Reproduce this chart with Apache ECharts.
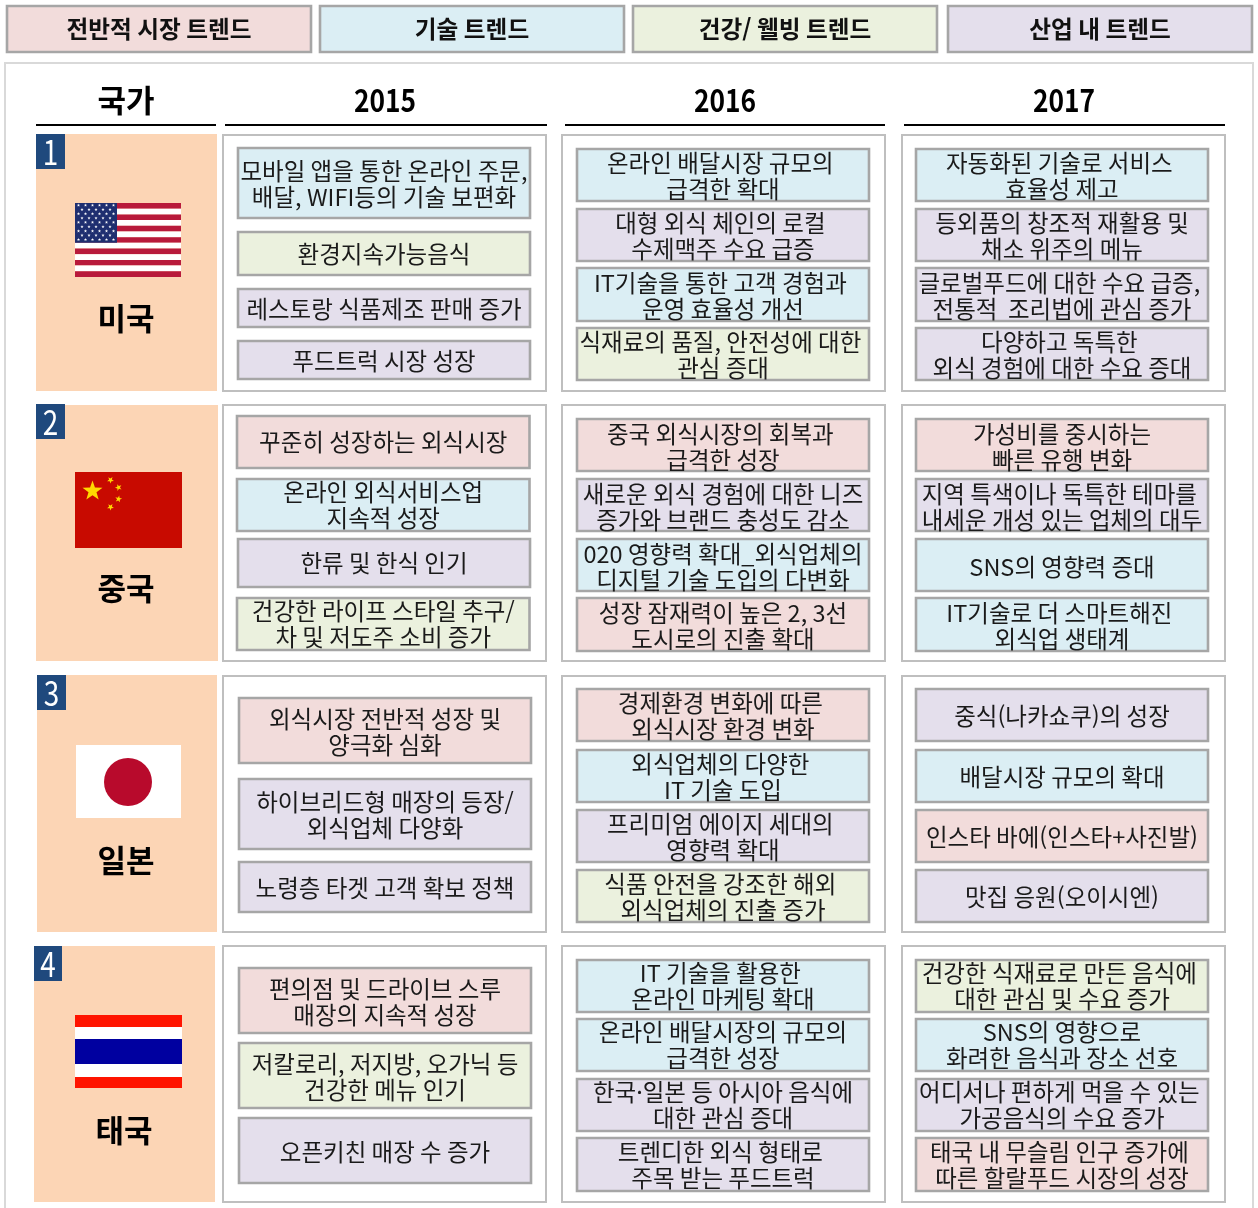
<!DOCTYPE html>
<html lang="ko"><head><meta charset="utf-8">
<style>html,body{margin:0;padding:0;background:#fff;overflow:hidden}#c{width:1258px;height:1208px}</style>
<script src="https://cdn.jsdelivr.net/npm/echarts@6/dist/echarts.min.js"></script>
</head><body><div id="c"></div>
<script>
// ---------- content ----------
const trendTypes = ['전반적 시장 트렌드','기술 트렌드','건강/ 웰빙 트렌드','산업 내 트렌드'];
const headers = ['국가','2015','2016','2017'];
const countries = ['미국','중국','일본','태국'];
const ranks = ['1','2','3','4'];

const usa2015 = ['모바일 앱을 통한 온라인 주문,\n배달, WIFI등의 기술 보편화','환경지속가능음식','레스토랑 식품제조 판매 증가','푸드트럭 시장 성장'];
const usa2016 = ['온라인 배달시장 규모의 \n급격한 확대','대형 외식 체인의 로컬 \n수제맥주 수요 급증','IT기술을 통한 고객 경험과 \n운영 효율성 개선','식재료의 품질, 안전성에 대한 \n관심 증대'];
const usa2017 = ['자동화된 기술로 서비스 \n효율성 제고','등외품의 창조적 재활용 및\n채소 위주의 메뉴','글로벌푸드에 대한 수요 급증, \n전통적  조리법에 관심 증가','다양하고 독특한 \n외식 경험에 대한 수요 증대'];
const chn2015 = ['꾸준히 성장하는 외식시장','온라인 외식서비스업\n지속적 성장','한류 및 한식 인기','건강한 라이프 스타일 추구/\n차 및 저도주 소비 증가'];
const chn2016 = ['중국 외식시장의 회복과 \n급격한 성장','새로운 외식 경험에 대한 니즈\n증가와 브랜드 충성도 감소','020 영향력 확대_외식업체의\n디지털 기술 도입의 다변화','성장 잠재력이 높은 2, 3선\n도시로의 진출 확대'];
const chn2017 = ['가성비를 중시하는\n빠른 유행 변화','지역 특색이나 독특한 테마를 \n내세운 개성 있는 업체의 대두','SNS의 영향력 증대','IT기술로 더 스마트해진 \n외식업 생태계'];
const jpn2015 = ['외식시장 전반적 성장 및\n양극화 심화','하이브리드형 매장의 등장/\n외식업체 다양화','노령층 타겟 고객 확보 정책'];
const jpn2016 = ['경제환경 변화에 따른 \n외식시장 환경 변화','외식업체의 다양한 \nIT 기술 도입','프리미엄 에이지 세대의 \n영향력 확대','식품 안전을 강조한 해외 \n외식업체의 진출 증가'];
const jpn2017 = ['중식(나카쇼쿠)의 성장','배달시장 규모의 확대','인스타 바에(인스타+사진발)','맛집 응원(오이시엔)'];
const tha2015 = ['편의점 및 드라이브 스루\n매장의 지속적 성장','저칼로리, 저지방, 오가닉 등\n건강한 메뉴 인기','오픈키친 매장 수 증가'];
const tha2016 = ['IT 기술을 활용한 \n온라인 마케팅 확대','온라인 배달시장의 규모의\n급격한 성장','한국·일본 등 아시아 음식에\n대한 관심 증대','트렌디한 외식 형태로 \n주목 받는 푸드트럭'];
const tha2017 = ['건강한 식재료로 만든 음식에 \n대한 관심 및 수요 증가','SNS의 영향으로\n화려한 음식과 장소 선호','어디서나 편하게 먹을 수 있는 \n가공음식의 수요 증가','태국 내 무슬림 인구 증가에 \n따른 할랄푸드 시장의 성장'];

// trend category of each card: 0 market, 1 technology, 2 health, 3 industry
const usa2015Types = [1,2,3,3], usa2016Types = [1,3,1,2], usa2017Types = [1,3,3,3];
const chn2015Types = [0,1,3,2], chn2016Types = [0,3,1,0], chn2017Types = [0,3,1,1];
const jpn2015Types = [0,3,3],   jpn2016Types = [0,1,3,2], jpn2017Types = [3,1,0,3];
const tha2015Types = [0,2,3],   tha2016Types = [1,1,3,3], tha2017Types = [2,1,3,0];

const cellTexts = [[usa2015,usa2016,usa2017],[chn2015,chn2016,chn2017],[jpn2015,jpn2016,jpn2017],[tha2015,tha2016,tha2017]];
const cellTypes = [[usa2015Types,usa2016Types,usa2017Types],[chn2015Types,chn2016Types,chn2017Types],[jpn2015Types,jpn2016Types,jpn2017Types],[tha2015Types,tha2016Types,tha2017Types]];

// ---------- page layout and styles ----------
const FONT = '"Noto Sans CJK KR","Noto Sans",sans-serif';
const typeFill = ['#F2DCDB','#DBEEF4','#EBF1DE','#E4DFEC'];
const legendX = [[7,311],[320,624],[633,937],[948,1252]];
const headX = [[36,216],[225,547],[565,885],[904,1225]];
const headC = [126,385,725,1064];
const panelX = [[223,546],[562,885],[902,1225]];
const rowY = [[135,391],[405,661],[676,932],[946,1202]];
const cardX = [[238,530],[577,869],[916,1208]];
const firstColX = [[[238,530],[238,530],[238,530],[238,530]],[[237,529.5],[237,529.5],[238,530],[237,529.5]],[[239,531],[239,531],[239,531]],[[239,531],[239,531],[239,531]]];
const countryBox = [[36,134,217,391],[36,405,218,661],[37,675,217,932],[34,946,215,1202]];
const badgeBox = [[36,134,65,169],[36,404,65,439],[37,675,66,710],[34,946,62,981]];
const nameY = [318,588,860,1130];
const nameX = [126,126,126,124];
const fourY = [[[149,201],[209,261],[268,321],[328,380]],[[419,471],[479,531],[539,591],[598,651]],[[689,741],[750,802],[810,862],[870,922]],[[960,1012],[1019,1071],[1079,1131],[1138,1191]]];
const firstY = [[[148,218],[232,275],[289,327],[341,379]],[[416,468],[479,531],[539,587],[598,650]],[[698,763],[779,849],[862,912]],[[968,1033],[1043,1108],[1118,1183]]];
const textShiftFirst = [1,0.5,1.5,1.5];
const textShiftRest = [1.5,2,1,0.5];

const items = [];
const rect = (x0,y0,x1,y1,fill,stroke,lw)=>items.push({k:'rect',x0,y0,x1,y1,fill,stroke,lw});
const text = (x,y,t,font,fill,lh,sx)=>items.push({k:'text',x0:x,y0:y,x1:x,y1:y,t,font,fill,lh,sx});
const poly = (pts,fill)=>items.push({k:'poly',x0:pts[0][0],y0:pts[0][1],x1:pts[0][0],y1:pts[0][1],pts,fill});
const disc = (x,y,r,fill)=>items.push({k:'disc',x0:x,y0:y,x1:x+r,y1:y,fill});
const star = (cx,cy,r,fill,rot)=>{const p=[];for(let i=0;i<10;i++){const a=(rot||0)-Math.PI/2+i*Math.PI/5,q=i%2?r*0.4:r;p.push([cx+q*Math.cos(a),cy+q*Math.sin(a)]);}poly(p,fill);};

// legend
trendTypes.forEach((t,i)=>{
  rect(legendX[i][0],6,legendX[i][1],52,typeFill[i],'#A6A6A6',2.6);
  text((legendX[i][0]+legendX[i][1])/2,29,t,'bold 23.7px '+FONT,'#111',26);
});
// outer frame
rect(5,63,1253,1240,'#fff','#D9D9D9',2);
// column headers
headers.forEach((t,i)=>{
  if(i===0) text(headC[i],100,t,'bold 31px '+FONT,'#000',34);
  else text(headC[i],100,t,'bold 31px '+FONT,'#000',34,0.85);
  rect(headX[i][0],125,headX[i][1],125,null,'#000',2);
});
// rows
countries.forEach((name,r)=>{
  const b=countryBox[r];
  rect(b[0],b[1],b[2],b[3],'#FCD5B5',null,0);
  const g=badgeBox[r];
  rect(g[0],g[1],g[2],g[3],'#1F497D',null,0);
  text((g[0]+g[2])/2,(g[1]+g[3])/2+0.5,ranks[r],'34px '+FONT,'#fff',36,0.82);
  text(nameX[r],nameY[r],name,'bold 31px '+FONT,'#000',36);
  for(let c=0;c<3;c++){
    rect(panelX[c][0],rowY[r][0],panelX[c][1],rowY[r][1],'#fff','#BFBFBF',2);
    const ys=c===0?firstY[r]:fourY[r];
    cellTexts[r][c].forEach((t,k)=>{
      const [y0,y1]=ys[k];
      const xs=c===0?firstColX[r][k]:cardX[c];
      rect(xs[0],y0,xs[1],y1,typeFill[cellTypes[r][c][k]],'#A6A6A6',2.6);
      text((xs[0]+xs[1])/2,(y0+y1)/2+(c===0?textShiftFirst[r]:textShiftRest[r]),t,'23.5px '+FONT,'#1a1a1a',26);
    });
  }
});
// flags
(function(){
  // USA
  const x0=75,x1=181,y0=203,y1=277,h=(y1-y0)/13;
  for(let i=0;i<13;i++) rect(x0,y0+i*h,x1,y0+(i+1)*h,i%2?'#fff':'#B81A3B',null,0);
  rect(x0,y0,117,y0+7*h,'#1F2F70',null,0);
  for(let j=0;j<9;j++){const n=j%2?5:6;for(let i=0;i<n;i++){
    star(x0+(j%2?7:3.5)+i*7,y0+2.2+j*4.3,1.7,'#fff');}}
  // China
  rect(75,472,182,548,'#C80A00',null,0);
  star(92.5,491,10.5,'#FFD800');
  star(110.5,480,3.6,'#FFD800',0.6);star(118.5,487.5,3.6,'#FFD800',0.9);star(118.5,499,3.6,'#FFD800',0.2);star(110.5,507,3.6,'#FFD800',0.6);
  // Japan
  rect(76,745,181,818,'#fff',null,0);
  disc(128,782,24,'#B80A2C');
  // Thailand
  const th=[[1015,1027,'#FF1400'],[1027,1039,'#fff'],[1039,1064,'#0000A0'],[1064,1077,'#fff'],[1077,1088,'#FF1400']];
  th.forEach(s=>rect(75,s[0],182,s[1],s[2],null,0));
})();

const markData = items.map(o=>[o.x0,o.y0,o.x1,o.y1]);

function renderItem(params,api){
  const o=items[params.dataIndex];
  const a=api.coord([api.value(0),api.value(1)]), b=api.coord([api.value(2),api.value(3)]);
  if(o.k==='rect'){
    return {type:'rect',shape:{x:a[0],y:a[1],width:b[0]-a[0],height:b[1]-a[1]},
      style:{fill:o.fill||'none',stroke:o.stroke||'none',lineWidth:o.lw||0}};
  }
  if(o.k==='text'){
    return {type:'text',x:a[0],y:a[1],scaleX:o.sx||1,style:{x:0,y:0,text:o.t,font:o.font,fill:o.fill,align:'center',verticalAlign:'middle',lineHeight:o.lh}};
  }
  if(o.k==='disc'){
    return {type:'circle',shape:{cx:a[0],cy:a[1],r:b[0]-a[0]},style:{fill:o.fill}};
  }
  return {type:'polygon',shape:{points:o.pts.map(p=>api.coord(p))},style:{fill:o.fill}};
}

const chart=echarts.init(document.getElementById('c'),null,{renderer:'canvas'});
chart.setOption({
  animation:false,
  backgroundColor:'#fff',
  grid:{left:0,right:0,top:0,bottom:0},
  xAxis:{type:'value',min:0,max:1258,show:false},
  yAxis:{type:'value',min:0,max:1208,inverse:true,show:false},
  series:[{type:'custom',coordinateSystem:'cartesian2d',silent:true,clip:false,renderItem,data:markData,encode:{x:[0,2],y:[1,3]}}]
});
</script></body></html>
